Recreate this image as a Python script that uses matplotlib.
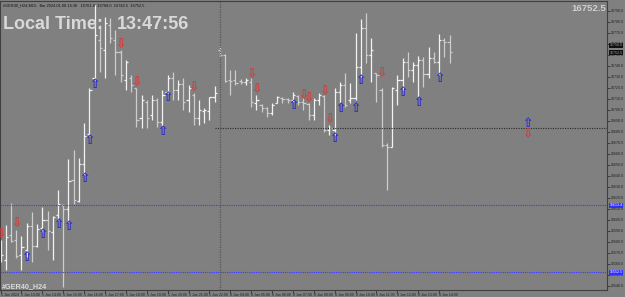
import numpy as np
import matplotlib.pyplot as plt
from matplotlib.transforms import blended_transform_factory

# M15 bars, 5 Jan 2024 12:00 -> 8 Jan 2024 14:30
opens = [16563.4, 16563.4, 16586.2, 16581.6, 16568.0, 16572.5, 16594.3, 16576.2, 16592.5, 16599.8,
         16588.9, 16604.3, 16613.4, 16609.8, 16636.2, 16617.1, 16650.7, 16678.0, 16728.9, 16763.4,
         16754.3, 16777.1, 16763.4, 16752.5, 16727.1, 16728.9, 16719.8, 16692.5, 16707.1, 16695.3,
         16708.9, 16688.9, 16716.2, 16728.9, 16718.0, 16723.4, 16708.9, 16713.4, 16692.5, 16698.9,
         16698.9, 16711.6, 16754.3, 16749.8, 16727.1, 16727.1, 16726.2, 16725.3, 16725.3, 16706.2,
         16704.3, 16701.6, 16697.1, 16706.2, 16710.7, 16709.8, 16708.9, 16712.5, 16707.1, 16705.3,
         16695.3, 16708.9, 16712.5, 16681.6, 16681.6, 16716.2, 16722.5, 16708.9, 16710.7, 16738.9,
         16774.3, 16749.8, 16733.4, 16718.0, 16668.0, 16666.2, 16718.0, 16727.1, 16743.4, 16736.2,
         16740.7, 16745.3, 16732.5, 16747.1, 16743.4, 16763.4, 16761.6]
highs = [16581.6, 16595.3, 16615.3, 16590.7, 16585.3, 16597.1, 16607.1, 16596.2, 16611.6, 16608.0,
         16603.4, 16627.1, 16614.3, 16655.3, 16663.4, 16656.2, 16688.0, 16719.8, 16795.3, 16777.1,
         16784.3, 16783.4, 16772.5, 16754.3, 16745.3, 16731.6, 16719.8, 16713.4, 16708.9, 16713.4,
         16710.7, 16718.0, 16731.6, 16734.3, 16727.1, 16728.9, 16722.5, 16715.3, 16708.9, 16701.6,
         16711.6, 16721.6, 16758.0, 16750.7, 16736.2, 16736.2, 16728.0, 16728.9, 16728.9, 16713.4,
         16705.3, 16702.5, 16706.2, 16712.5, 16711.6, 16710.7, 16716.2, 16713.4, 16710.7, 16706.2,
         16710.7, 16715.3, 16713.4, 16686.2, 16719.8, 16725.3, 16733.4, 16724.3, 16769.8, 16782.5,
         16788.0, 16765.3, 16733.4, 16719.8, 16669.8, 16720.7, 16731.6, 16747.1, 16752.5, 16743.4,
         16748.9, 16748.0, 16757.1, 16752.5, 16768.9, 16765.3, 16768.0]
lows = [16561.6, 16554.3, 16579.8, 16565.3, 16554.3, 16566.2, 16561.6, 16575.3, 16588.9, 16572.5,
        16563.4, 16599.8, 16538.9, 16598.0, 16614.3, 16616.2, 16640.7, 16676.2, 16727.1, 16734.3,
        16728.9, 16760.7, 16731.6, 16725.3, 16718.0, 16716.2, 16684.3, 16683.4, 16683.4, 16690.7,
        16684.3, 16685.3, 16715.3, 16708.9, 16708.9, 16699.8, 16698.0, 16686.2, 16686.2, 16688.0,
        16690.7, 16707.1, 16748.0, 16725.3, 16713.4, 16722.5, 16723.4, 16722.5, 16702.5, 16699.8,
        16698.0, 16693.4, 16695.3, 16706.2, 16706.2, 16706.2, 16707.1, 16704.3, 16699.8, 16690.7,
        16690.7, 16704.3, 16679.8, 16677.1, 16677.1, 16706.2, 16702.5, 16706.2, 16708.9, 16729.8,
        16742.5, 16725.3, 16707.1, 16666.2, 16627.1, 16666.2, 16704.3, 16718.0, 16729.8, 16725.3,
        16711.6, 16720.7, 16728.9, 16742.5, 16731.6, 16748.0, 16742.5]
closes = [16568.0, 16584.4, 16580.7, 16567.1, 16575.3, 16594.3, 16576.2, 16591.6, 16599.8, 16589.8,
          16602.5, 16614.3, 16609.8, 16635.3, 16618.0, 16650.7, 16676.2, 16718.0, 16768.0, 16756.2,
          16778.9, 16765.3, 16752.5, 16731.6, 16743.4, 16722.5, 16690.7, 16708.9, 16692.5, 16708.9,
          16688.9, 16713.4, 16728.9, 16718.0, 16723.4, 16707.1, 16719.8, 16692.5, 16699.8, 16699.8,
          16711.6, 16715.3, 16749.8, 16726.2, 16726.2, 16724.3, 16725.3, 16727.1, 16707.1, 16708.9,
          16701.6, 16697.1, 16704.3, 16711.6, 16709.8, 16708.9, 16713.4, 16707.1, 16706.2, 16695.3,
          16708.9, 16713.4, 16681.6, 16683.4, 16716.2, 16722.5, 16704.3, 16710.7, 16738.9, 16774.3,
          16749.8, 16754.3, 16731.6, 16668.0, 16666.2, 16719.8, 16727.1, 16743.4, 16736.2, 16740.7,
          16745.3, 16732.5, 16747.1, 16743.4, 16763.4, 16761.6, 16752.5]

x_labels = ["5 Jan 2024", "5 Jan 13:00", "5 Jan 14:00", "5 Jan 15:00", "5 Jan 16:00", "5 Jan 17:00",
            "5 Jan 18:00", "5 Jan 19:00", "5 Jan 20:00", "5 Jan 21:00", "5 Jan 22:00",
            "8 Jan 04:00", "8 Jan 05:00", "8 Jan 06:00", "8 Jan 07:00", "8 Jan 08:00", "8 Jan 09:00",
            "8 Jan 10:00", "8 Jan 11:00", "8 Jan 12:00", "8 Jan 13:00", "8 Jan 14:00"]
bars_per_label = 4

# signal arrows (bar index, price)
up_bars = [5, 8, 11, 13, 16, 17, 18, 31, 32, 56, 64, 65, 68, 69, 77, 80, 84, 101]
up_prices = [16565.3, 16586.2, 16595.3, 16594.3, 16637.1, 16672.5, 16723.4, 16680.7, 16711.6,
             16704.3, 16674.3, 16701.6, 16701.6, 16726.2, 16715.3, 16706.2, 16728.9, 16687.1]
down_bars = [0, 3, 23, 26, 37, 48, 49, 58, 59, 62, 63, 73, 101]
down_prices = [16586.2, 16596.2, 16758.9, 16724.3, 16719.8, 16731.6, 16718.0, 16712.5, 16709.8,
               16716.2, 16690.7, 16732.5, 16677.5]

bid = 16752.5
ask = 16758.0
blue_levels = [16613.4, 16552.5]
black_level = 16683.4
black_level_from = 41
separator_bar = 42
symbol = "#GER40_H24"
info_line = "#GER40_H24,M15:  Bar 2024.01.08 14:30   16761.6  16768.0  16742.5  16752.5"
local_time = "13:47:56"

bg = "#808080"
plt.rcParams['font.family'] = ['Liberation Sans', 'DejaVu Sans']

fig = plt.figure(figsize=(6.25, 2.97), dpi=100, facecolor=bg)
ax = fig.add_axes([0, 7 / 297, 607 / 625, 289 / 297], facecolor=bg)

idx = np.arange(len(opens))
o = np.array(opens)
c = np.array(closes)
cols = np.where(c >= o, "#f2f2f2", "#cdcdcd")
ax.vlines(idx, lows, highs, colors=cols, lw=0.9)
ax.hlines(o, idx - 0.42, idx, colors=cols, lw=0.9)
ax.hlines(c, idx, idx + 0.42, colors=cols, lw=0.9)

x_max = 116.17
ax.set_xlim(-0.115, x_max)
ax.set_ylim(16536.2, 16798.9)

for lv in blue_levels:
    ax.axhline(lv, color="#3a3aff", lw=0.8, ls=(0, (1, 1)))
ax.hlines(black_level, black_level_from, x_max, color="#2a2a2a", lw=0.8, ls=(0, (1, 1.2)))
ax.axvline(separator_bar, color="#585858", lw=0.9, ls=(0, (1, 1)))

for b, p in zip(up_bars, up_prices):
    ax.text(b, p, "\u21e7", color="#2a2ad6", fontsize=9, ha="center", va="center",
            family="DejaVu Sans", fontweight="bold")
for b, p in zip(down_bars, down_prices):
    ax.text(b, p, "\u21e9", color="#d83a3a", fontsize=9, ha="center", va="center",
            family="DejaVu Sans", fontweight="bold")

# axes cosmetics
for s in ax.spines.values():
    s.set_color("#404040")
    s.set_linewidth(0.8)
ax.yaxis.tick_right()
yt = np.arange(16540, 16800, 10)
ax.set_yticks(yt)
ax.set_yticklabels([f"{v:.1f}" for v in yt])
ax.tick_params(axis="y", length=2, width=0.5, pad=1, labelsize=2.6, colors="#202020")
xt = np.arange(len(x_labels)) * bars_per_label
ax.set_xticks(xt)
ax.set_xticklabels(x_labels, ha="left")
ax.tick_params(axis="x", length=2, width=0.5, pad=0.5, labelsize=2.6, colors="#202020")

# price boxes on the axis
tr = blended_transform_factory(ax.transAxes, ax.transData)
ax.text(1.004, ask + 0.6, f"{ask:.1f}", transform=tr, fontsize=2.6, color="#a0a0a0", va="center",
        ha="left", bbox=dict(boxstyle="square,pad=0.1", fc="#101010", ec="none"), clip_on=False)
ax.text(1.004, bid - 0.6, f"{bid:.1f}", transform=tr, fontsize=2.6, color="#a0a0a0", va="center",
        ha="left", bbox=dict(boxstyle="square,pad=0.1", fc="#101010", ec="none"), clip_on=False)
for lv in blue_levels:
    ax.text(1.004, lv, f"{lv:.1f}", transform=tr, fontsize=2.6, color="white", va="center",
            ha="left", bbox=dict(boxstyle="square,pad=0.15", fc="#3030ff", ec="none"), clip_on=False)

# overlay texts
ax.text(3 / 607, 1 - 2 / 289, info_line, transform=ax.transAxes, fontsize=2.8, color="#101010",
        ha="left", va="top")
ax.text(3 / 607, 1 - 28 / 289, "Local Time:", transform=ax.transAxes, fontsize=13, color="#d9d9d9",
        fontweight="bold", ha="left", va="baseline")
ax.text(117 / 607, 1 - 28 / 289, local_time, transform=ax.transAxes, fontsize=13, color="#d9d9d9",
        fontweight="bold", ha="left", va="baseline")
ax.text(606 / 607, 1 - 3 / 289, f"{bid:.1f}", transform=ax.transAxes, fontsize=6.8, color="#d0d0d0",
        fontweight="bold", ha="right", va="top")
ax.text(2 / 607, 2 / 289, symbol, transform=ax.transAxes, fontsize=5.2, color="#d9d9d9",
        fontweight="bold", ha="left", va="baseline")

fig.savefig("out.png", dpi=100, facecolor=bg)
